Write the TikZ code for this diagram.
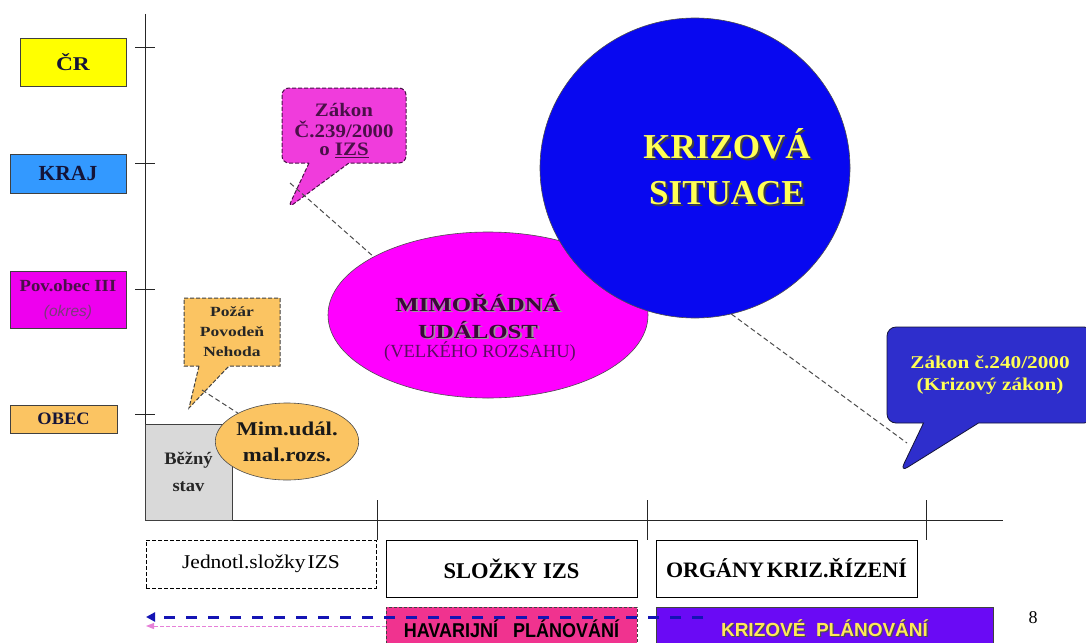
\documentclass[tikz,border=0pt]{standalone}
\usepackage{fontspec}
\usepackage{graphicx}
\setmainfont{Liberation Serif}
\newfontfamily\arialf{Liberation Sans}
\usetikzlibrary{shapes.geometric,shapes.callouts,arrows.meta}
\definecolor{crY}{HTML}{FFFF00}
\definecolor{krajB}{HTML}{3399FF}
\definecolor{povM}{HTML}{EE00EE}
\definecolor{obecO}{HTML}{FBC462}
\definecolor{grayB}{HTML}{D9D9D9}
\definecolor{navyT}{HTML}{141438}
\definecolor{purT}{HTML}{4A1048}
\definecolor{mimM}{HTML}{FF00FF}
\definecolor{mimT}{HTML}{3A0838}
\definecolor{velT}{HTML}{5A1060}
\definecolor{ksB}{HTML}{0808F0}
\definecolor{zA}{HTML}{F03CDC}
\definecolor{zB}{HTML}{2E2ECC}
\definecolor{yelT}{HTML}{FFFF55}
\definecolor{havP}{HTML}{F0338F}
\definecolor{kriV}{HTML}{6A0AF5}
\definecolor{kriT}{HTML}{FFE85A}
\definecolor{blueA}{HTML}{1414B4}
\definecolor{pinkA}{HTML}{E680D8}
\definecolor{okresC}{HTML}{7A3A7A}
\newcommand\fs[2]{\fontsize{#1}{#2}\selectfont}
\newcommand\xs[2]{\scalebox{#1}[1]{#2}}
\newcommand\shd[3]{\makebox[0pt][l]{\hspace{#1}\raisebox{-#1}{\textcolor{#2}{#3}}}#3}
\begin{document}
\begin{tikzpicture}[x=1pt,y=-1pt,
  axisline/.style={line width=1pt, black!85},
  lvl/.style={draw=black!75, line width=0.8pt, inner sep=0pt, font=\bfseries, text=navyT},
  bot/.style={draw=black, line width=0.8pt, inner sep=0pt},
  ell/.style={ellipse, draw=black!70, line width=0.6pt, inner sep=0pt},
  conn/.style={black!70, line width=1pt, dash pattern=on 5pt off 3pt},
  bluearr/.style={blueA, line width=3pt, dash pattern=on 11pt off 11pt, -{Triangle[length=9pt,width=9pt]}},
  pinkarr/.style={pinkA, line width=1pt, dash pattern=on 4pt off 2pt, -{Triangle[length=8pt,width=6pt]}}
]
\fill[white] (0,0) rectangle (1086,642);
\clip (0,0) rectangle (1086,642);

% axes
\coordinate (ytop) at (145,14);
\coordinate (orig) at (145,520);
\coordinate (xend) at (1003,520);
\draw[axisline] (ytop) -- (orig) -- (xend);
\foreach \y in {48,163,289,414} \draw[axisline] (135,\y) -- (155,\y);
\foreach \x in {377,647,926} \draw[axisline] (\x,500) -- (\x,540);

% level boxes
\node[lvl, fill=crY, minimum width=106, minimum height=48, font=\bfseries\fs{19.5}{22}] (cr) at (73,62) {\xs{1.2}{ČR}};
\node[lvl, fill=krajB, minimum width=116, minimum height=39, font=\bfseries\fs{21.5}{24}] (kraj) at (68,173.5) {KRAJ};
\node[lvl, fill=povM, minimum width=116, minimum height=57, align=center, text=purT, font=\bfseries\fs{17}{25}] (pov) at (68,300)
  {\xs{1.1}{Pov.obec III}\\{\arialf\mdseries\itshape\color{okresC}\fs{15.5}{17}(okres)}};
\node[lvl, fill=obecO, minimum width=107, minimum height=28, font=\bfseries\fs{17.5}{20}] (obec) at (63.5,419) {\xs{1.05}{OBEC}};

% Bezny stav
\node[lvl, fill=grayB, minimum width=87, minimum height=96, align=center, text=black!85, font=\bfseries\fs{17.5}{27}] (bez) at (188.5,472) {\xs{1.06}{Běžný}\\\xs{1.06}{stav}};

% small ellipse
\node[ell, fill=obecO, minimum width=110, minimum height=77, align=center, text=black!90, font=\bfseries\fs{19.5}{26}] (mim) at (287,441.5) {\xs{1.17}{Mim.udál.}\\\xs{1.17}{mal.rozs.}};

% big ellipses
\node[ell, fill=mimM, minimum width=320, minimum height=166] (mu) at (488,315) {};
\node[ell, fill=ksB, minimum width=310, minimum height=300] (ks) at (695,168) {};
\node[align=center, text=mimT, font=\bfseries\fs{20}{27}] (mutxt) at (478,317)
  {\xs{1.24}{\shd{1.5pt}{black!40}{MIMOŘÁDNÁ}}\\\xs{1.24}{\shd{1.5pt}{black!40}{UDÁLOST}}};
\node[text=velT, font=\fs{18.5}{20}] (veltxt) at (480,352) {(VELKÉHO ROZSAHU)};
\node[align=center, text=yelT, font=\bfseries\fs{35}{46}] (kstxt) at (727,168)
  {\shd{2pt}{black!75}{KRIZOVÁ}\\\shd{2pt}{black!75}{SITUACE}};

% callouts
\node[rectangle callout, draw=black!75, line width=1pt, dash pattern=on 4pt off 2pt, fill=obecO,
  minimum width=96, minimum height=68, inner sep=0pt,
  callout absolute pointer={(189,408)}, callout pointer width=30pt,
  align=center, text=black!85, font=\bfseries\fs{14}{20}] (pozar) at (232,332)
  {\xs{1.25}{Požár}\\\xs{1.25}{Povodeň}\\\xs{1.25}{Nehoda}};
\node[rectangle callout, draw=purT, line width=1pt, dash pattern=on 4pt off 2pt, rounded corners=7pt, fill=zA,
  minimum width=124, minimum height=75, inner sep=0pt,
  callout absolute pointer={(288,208)}, callout pointer width=40pt,
  text=purT, font=\bfseries\fs{19}{20}] (z239) at (344,125.5)
  {\raisebox{-11pt}[0pt][0pt]{\begin{tabular}{@{}c@{}}\xs{1.1}{Zákon}\\[-2pt]\xs{1.1}{Č.239/2000}\\[-2pt]\xs{1.1}{o \underline{IZS}}\end{tabular}}};
\node[rectangle callout, draw=navyT, line width=0.8pt, rounded corners=9pt, fill=zB,
  minimum width=206, minimum height=96, inner sep=0pt,
  callout absolute pointer={(900,472)}, callout pointer width=55pt,
  align=center, text=yelT, font=\bfseries\fs{18}{22}] (z240) at (990,375)
  {\xs{1.18}{Zákon č.240/2000}\\\xs{1.18}{(Krizový zákon)}};

% dashed connectors
\coordinate (p1) at (202,390);
\draw[conn] (p1) -- (mim.150);
\coordinate (p2) at (290,183);
\draw[conn] (p2) -- (mu.153);
\coordinate (p3) at (907,443);
\draw[conn] (ks.-76) -- (p3);

% bottom boxes
\node[bot, dash pattern=on 4pt off 2pt, minimum width=230, minimum height=48, font=\fs{19.5}{22}] (jed) at (261,564) {\xs{1.1}{Jednotl.složky\hspace{2pt}IZS}};
\node[bot, minimum width=251, minimum height=57, font=\bfseries\fs{22.5}{24}] (slo) at (511.5,568.5) {SLOŽKY IZS};
\node[bot, minimum width=261, minimum height=57, font=\bfseries\fs{22}{24}] (org) at (786.5,568.5) {ORGÁNY\hspace{3pt}KRIZ.ŘÍZENÍ};
\node[bot, draw=black!75, dash pattern=on 3pt off 2pt, fill=havP, minimum width=251, minimum height=44, font=\arialf\bfseries\fs{20}{22}] (hav) at (511.5,629) {\xs{0.9}{HAVARIJNÍ~~~PLÁNOVÁNÍ}};
\node[bot, draw=black!75, fill=kriV, minimum width=337, minimum height=44, text=kriT, font=\arialf\bfseries\fs{19}{20}] (kri) at (824.5,629) {\shd{1.2pt}{black!70}{KRIZOVÉ~~PLÁNOVÁNÍ}};
\node[font=\fs{18}{20}] (pg) at (1033,618) {8};

% arrows
\coordinate (a1s) at (703,617);
\coordinate (a1e) at (146,617);
\draw[bluearr] (a1s) -- (a1e);
\coordinate (a2s) at (386,626);
\coordinate (a2e) at (146,626);
\draw[pinkarr] (a2s) -- (a2e);
\end{tikzpicture}
\end{document}
